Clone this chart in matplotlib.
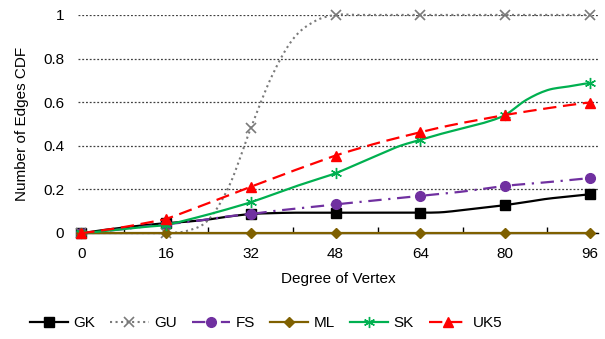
import numpy as np
import matplotlib
matplotlib.use("Agg")
import matplotlib.pyplot as plt

plt.rcParams['font.family'] = ['Liberation Sans', 'DejaVu Sans']

# degree of vertex, sampled every 4
degree = np.arange(0, 97, 4)

gk = [0, 0.013, 0.025, 0.036, 0.045, 0.052, 0.062, 0.076, 0.087, 0.091, 0.093, 0.093, 0.093,
      0.093, 0.093, 0.093, 0.093, 0.095, 0.105, 0.116, 0.128, 0.142, 0.157, 0.167, 0.177]
gu = [0, 0, 0, 0, 0, 0.01, 0.06, 0.22, 0.48, 0.72, 0.89, 0.97, 1.0,
      1.0, 1.0, 1.0, 1.0, 1.0, 1.0, 1.0, 1.0, 1.0, 1.0, 1.0, 1.0]
fs = [0, 0.008, 0.018, 0.03, 0.04, 0.05, 0.063, 0.077, 0.087, 0.1, 0.11, 0.12, 0.131,
      0.141, 0.151, 0.161, 0.171, 0.18, 0.19, 0.203, 0.216, 0.225, 0.233, 0.242, 0.251]
ml = [0] * 25
sk = [0, 0.008, 0.018, 0.028, 0.037, 0.06, 0.085, 0.112, 0.141, 0.175, 0.21, 0.242, 0.274,
      0.315, 0.357, 0.398, 0.427, 0.455, 0.48, 0.505, 0.541, 0.61, 0.655, 0.672, 0.687]
uk5 = [0, 0.012, 0.027, 0.045, 0.065, 0.1, 0.137, 0.175, 0.212, 0.248, 0.285, 0.32, 0.355,
       0.385, 0.413, 0.438, 0.462, 0.485, 0.505, 0.523, 0.541, 0.557, 0.572, 0.586, 0.598]

names = ['GK', 'GU', 'FS', 'ML', 'SK', 'UK5']
series = [gk, gu, fs, ml, sk, uk5]
colors = ['#000000', '#7a7a7a', '#7030A0', '#7F6000', '#00B050', '#FF0000']
styles = ['-', ':', (0, (6, 3, 1, 3)), '-', '-', (0, (6, 3))]
markers = ['s', 'x', 'o', 'D', (6, 2, 0), '^']
msizes = [6.5, 6.5, 7, 5.5, 8, 6.5]

N = 8  # sub-steps per segment for smoothing


def smooth(x, y):
    # catmull-rom through the points, like excel smoothed lines
    x = np.asarray(x, float)
    y = np.asarray(y, float)
    px = np.concatenate([[2 * x[0] - x[1]], x, [2 * x[-1] - x[-2]]])
    py = np.concatenate([[y[0]], y, [y[-1]]])
    xs, ys = [], []
    t = np.linspace(0, 1, N, endpoint=False)
    for i in range(1, len(px) - 2):
        for arr, out in ((px, xs), (py, ys)):
            p0, p1, p2, p3 = arr[i - 1], arr[i], arr[i + 1], arr[i + 2]
            out.extend(0.5 * (2 * p1 + (-p0 + p2) * t + (2 * p0 - 5 * p1 + 4 * p2 - p3) * t ** 2
                              + (-p0 + 3 * p1 - 3 * p2 + p3) * t ** 3))
    xs.append(x[-1])
    ys.append(y[-1])
    return np.array(xs), np.array(ys)


fig = plt.figure(figsize=(6.05, 3.39), dpi=100)
ax = fig.add_axes([0.129, 0.3127, 0.859, 0.6433])

mark_idx = [i * N for i, d in enumerate(degree) if d % 16 == 0]

for name, y, c, ls, m, ms in zip(names, series, colors, styles, markers, msizes):
    xs, ys = smooth(degree, y)
    ax.plot(xs, ys, color=c, linestyle=ls, lw=1.6 if name != 'GU' else 1.5,
            marker=m, markersize=ms, markevery=mark_idx, markeredgewidth=1.2 if m == 'x' else 1.0,
            label=name, clip_on=False, zorder=3)

ax.set_xlim(-0.6, 97.5)
ax.set_ylim(0, 1)
ax.set_xticks(np.arange(0, 97, 16))
ax.set_xticks(np.arange(8, 96, 16), minor=True)
ax.set_yticks([0, 0.2, 0.4, 0.6, 0.8, 1])
ax.set_yticklabels(['0', '0.2', '0.4', '0.6', '0.8', '1'])
ax.yaxis.grid(True, linestyle=(0, (1.5, 1.5)), color='#404040', lw=0.9)
ax.set_axisbelow(True)
for s in ['top', 'right', 'left']:
    ax.spines[s].set_visible(False)
ax.spines['bottom'].set_color('black')
ax.spines['bottom'].set_linewidth(1.0)
ax.tick_params(axis='both', which='major', length=0, labelsize=11)
ax.tick_params(axis='y', pad=10)
ax.tick_params(axis='x', pad=10)
ax.tick_params(axis='x', which='minor', direction='in', length=4, width=1)

ax.set_xlabel('Degree of Vertex', fontsize=11, labelpad=8)
ax.set_ylabel('Number of Edges CDF', fontsize=11, labelpad=10)

fig.legend(loc='center', bbox_to_anchor=(266 / 605, 1 - 323 / 339), ncol=6, frameon=False,
           fontsize=11, handlelength=2.5, handletextpad=0.35, columnspacing=1.0)

fig.savefig('out.png', dpi=100)
